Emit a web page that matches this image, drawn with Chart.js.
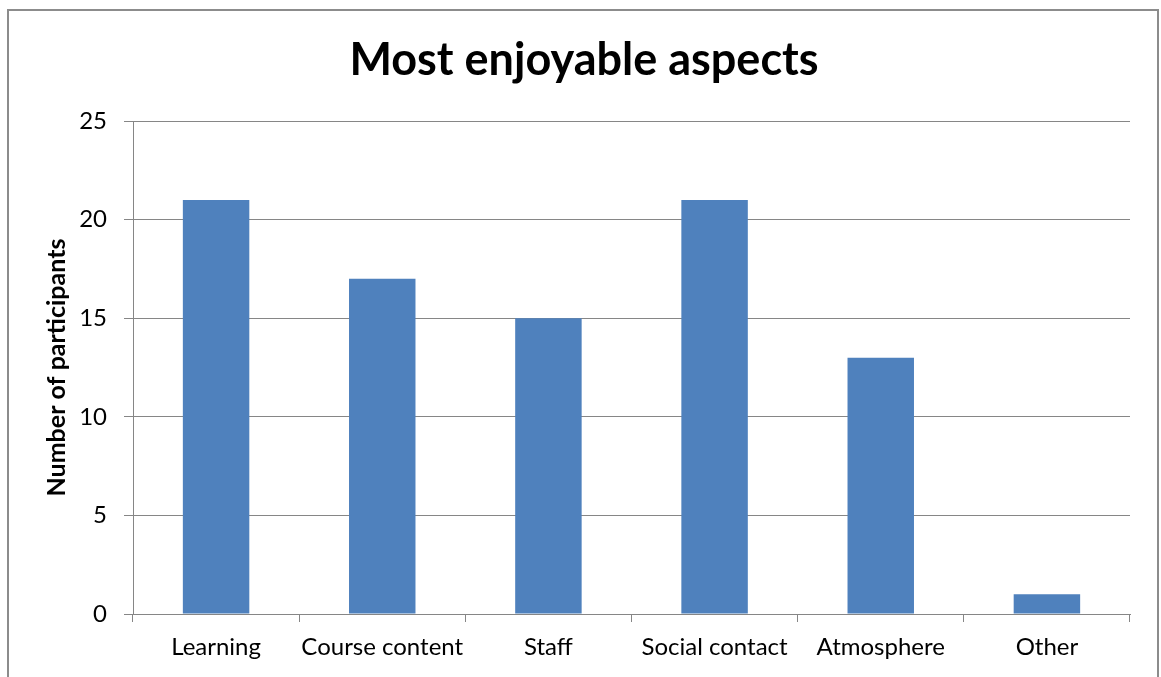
<!DOCTYPE html>
<html>
<head>
<meta charset="utf-8">
<title>Most enjoyable aspects</title>
<script src="https://cdn.jsdelivr.net/npm/chart.js@4/dist/chart.umd.min.js"></script>
<style>
  html, body { margin: 0; padding: 0; background: #fff; }
  #wrap { width: 1161px; height: 677px; position: relative; }
</style>
</head>
<body>
<div id="wrap"><canvas id="chart"></canvas></div>
<script>
// chart data
const categories = ["Learning", "Course content", "Staff", "Social contact", "Atmosphere", "Other"];
const participants = [21, 17, 15, 21, 13, 1];
const yTicks = [0, 5, 10, 15, 20, 25];

const FONT = "Lato, 'Open Sans', sans-serif";
const GRID = "#868686";

// draws the outer frame around the chart (it runs past the bottom edge)
const framePlugin = {
  id: "frame",
  beforeDraw(chart) {
    const c = chart.ctx;
    c.save();
    c.fillStyle = "#fff";
    c.fillRect(0, 0, chart.width, chart.height);
    c.strokeStyle = "#8c8c8c";
    c.lineWidth = 2;
    c.strokeRect(8, 10, 1150, 720);
    c.restore();
  },
};

new Chart(document.getElementById("chart"), {
  type: "bar",
  data: {
    labels: categories,
    datasets: [
      {
        label: "Number of participants",
        data: participants,
        backgroundColor: "#4f81bd",
        barPercentage: 0.4,
        categoryPercentage: 1,
      },
    ],
  },
  options: {
    responsive: true,
    maintainAspectRatio: false,
    animation: false,
    // left padding keeps the title centred where the reference has it
    layout: { padding: { left: 38, right: 31, top: 0, bottom: 0 } },
    plugins: {
      legend: { display: false },
      tooltip: { enabled: false },
      title: {
        display: true,
        text: "Most enjoyable aspects",
        color: "#000",
        font: { family: FONT, size: 45, weight: "bold" },
        padding: { top: 33, bottom: 34 },
      },
    },
    scales: {
      x: {
        grid: {
          drawOnChartArea: false,
          drawTicks: true,
          tickLength: 8,
          color: GRID,
        },
        border: { color: GRID, width: 1 },
        ticks: {
          color: "#000",
          font: { family: FONT, size: 24 },
          padding: 11,
          maxRotation: 0,
          autoSkip: false,
        },
        afterFit(scale) {
          scale.height = 63;
        },
      },
      y: {
        min: 0,
        max: 25,
        afterBuildTicks(scale) {
          scale.ticks = yTicks.map((v) => ({ value: v }));
        },
        grid: { color: GRID, tickLength: 9 },
        border: { color: GRID, width: 1 },
        ticks: {
          color: "#000",
          font: { family: FONT, size: 24 },
          padding: 17,
        },
        title: {
          display: true,
          text: "Number of participants",
          color: "#000",
          font: { family: FONT, size: 25, weight: "bold" },
          padding: { top: 4, bottom: 0 },
        },
        afterFit(scale) {
          scale.width = 95;
        },
      },
    },
  },
  plugins: [framePlugin],
});
</script>
</body>
</html>
